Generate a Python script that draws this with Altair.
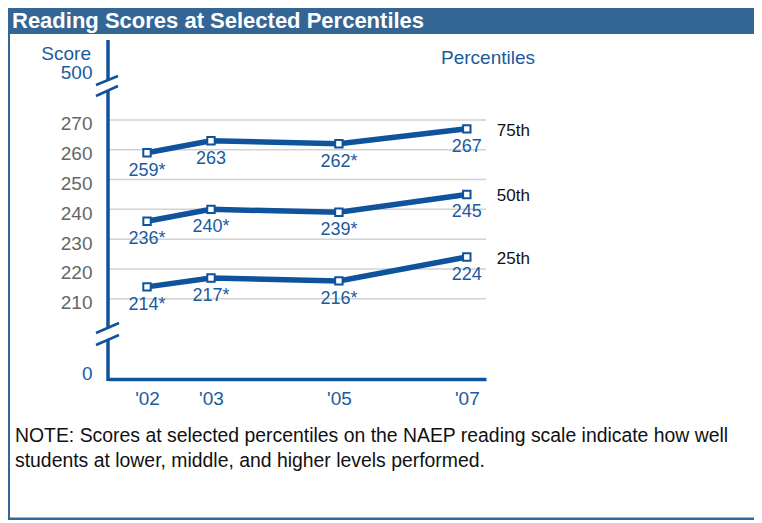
import altair as alt
import pandas as pd

# ---- data ----
years = [2002, 2003, 2005, 2007]
year_labels = ["'02", "'03", "'05", "'07"]
percentiles = ["75th", "50th", "25th"]
p75 = [259, 263, 262, 267]
p50 = [236, 240, 239, 245]
p25 = [214, 217, 216, 224]
p75_text = ["259*", "263", "262*", "267"]
p50_text = ["236*", "240*", "239*", "245"]
p25_text = ["214*", "217*", "216*", "224"]
grid_values = [210, 220, 230, 240, 250, 260, 270]
# axis break stand-ins: positions on the broken scale that carry the "0" and "500" labels
zero_pos = 186.4
top_pos = 287.2

title_text = "Reading Scores at Selected Percentiles"
note_line1 = "NOTE: Scores at selected percentiles on the NAEP reading scale indicate how well"
note_line2 = "students at lower, middle, and higher levels performed."

rows = []
for pct, vals, txts in [("75th", p75, p75_text), ("50th", p50, p50_text), ("25th", p25, p25_text)]:
    for yr, v, t in zip(years, vals, txts):
        rows.append({"year": yr, "score": v, "label": t, "pct": pct})
df = pd.DataFrame(rows)
last = df[df["year"] == years[-1]]
grid_df = pd.DataFrame({"score": grid_values})
one = pd.DataFrame({"k": [0]})

# ---- style ----
BLUE = "#0f539c"
TEXTBLUE = "#1a5b9e"
HEADER = "#336694"
FONT = "Liberation Sans"
W, H = 378, 339

xscale = alt.Scale(domain=[2001.39, 2007.30], nice=False, zero=False)
yscale = alt.Scale(domain=[183.1, 296.8], nice=False, zero=False)

xaxis = alt.Axis(values=years, format="d", labelExpr="\"'\" + substring(datum.label, 2)",
                 grid=False, ticks=False, tickSize=0, domain=True, domainColor=BLUE,
                 domainWidth=3.5, labelColor=TEXTBLUE, labelFontSize=19, labelFont=FONT,
                 labelPadding=10, title=None)
yaxis = alt.Axis(values=[zero_pos] + grid_values + [top_pos], grid=False, ticks=False, tickSize=0,
                 domain=False,
                 labelExpr="datum.value < 200 ? '0' : (datum.value > 280 ? '500' : format(datum.value, 'd'))",
                 labelColor={"condition": {"test": "datum.value < 200 || datum.value > 280", "value": TEXTBLUE},
                             "value": "#666666"},
                 labelFontSize=19, labelFont=FONT, labelPadding=16, labelOffset=4, title=None)


def X(field="year"):
    return alt.X(f"{field}:Q", scale=xscale, axis=xaxis)


def Y(field="score"):
    return alt.Y(f"{field}:Q", scale=yscale, axis=yaxis)


base = alt.Chart(df)

lines = base.mark_line(color=BLUE, strokeWidth=5.5).encode(x=X(), y=Y(), detail="pct:N")
points = base.mark_point(shape="square", filled=True, fill="white", stroke=BLUE, strokeWidth=2,
                         size=55, opacity=1).encode(x=X(), y=Y())
labels = base.mark_text(font=FONT, fontSize=18, color=TEXTBLUE, dy=18, baseline="middle").encode(
    x=X(), y=Y(), text="label:N")
pct_labels = alt.Chart(last).mark_text(font=FONT, fontSize=17, color="#111111", align="left",
                                       dx=30, dy=2, baseline="middle").encode(
    x=X(), y=Y(), text="pct:N")

grid = alt.Chart(grid_df).mark_rule(color="#d2d2d2", strokeWidth=1.5).encode(y=Y())


def rule(x, y, x2, y2, color=BLUE, width=3.5):
    return alt.Chart(one).mark_rule(color=color, strokeWidth=width).encode(
        x=alt.value(x), y=alt.value(y), x2=alt.value(x2), y2=alt.value(y2))


axis_segments = [
    rule(0, 0, 0, 40.5),
    rule(0, 50, 0, 288),
    rule(0, 299.5, 0, 341),
]
slashes = [
    rule(-12, 45, 10, 36, width=2.5),
    rule(-12, 56, 10, 46, width=2.5),
    rule(-12, 293, 11, 283, width=2.5),
    rule(-12, 305, 11, 295, width=2.5),
]

header = alt.Chart(one).mark_rect(color=HEADER).encode(
    x=alt.value(-100), x2=alt.value(646), y=alt.value(-32), y2=alt.value(-6))
left_border = rule(-99, -32, -99, 479.5, color=HEADER, width=2)
bottom_border = rule(-100, 479, 646, 479, color=HEADER, width=3)


def txt(s, x, y, size, color, align="left", weight="normal"):
    return alt.Chart(one).mark_text(font=FONT, fontSize=size, color=color, align=align,
                                    baseline="middle", fontWeight=weight).encode(
        x=alt.value(x), y=alt.value(y), text=alt.value(s))


texts = [
    txt(title_text, -96, -19, 22, "white", weight="bold"),
    txt("Percentiles", 427, 18, 19, TEXTBLUE, align="right"),
    txt("Score", -17, 14, 19, TEXTBLUE, align="right"),
    txt(note_line1, -93, 396, 19.4, "#111111"),
    txt(note_line2, -93, 421, 19.4, "#111111"),
]

chart = alt.layer(
    header, left_border, bottom_border, grid, *axis_segments, *slashes,
    lines, points, labels, pct_labels, *texts
).properties(
    width=W, height=H,
    autosize=alt.AutoSizeParams(type="none"),
    padding={"left": 100, "top": 32, "right": 268, "bottom": 141},
).configure_view(stroke=None)

chart.save("out.html", embed_options={"renderer": "svg", "actions": False})
